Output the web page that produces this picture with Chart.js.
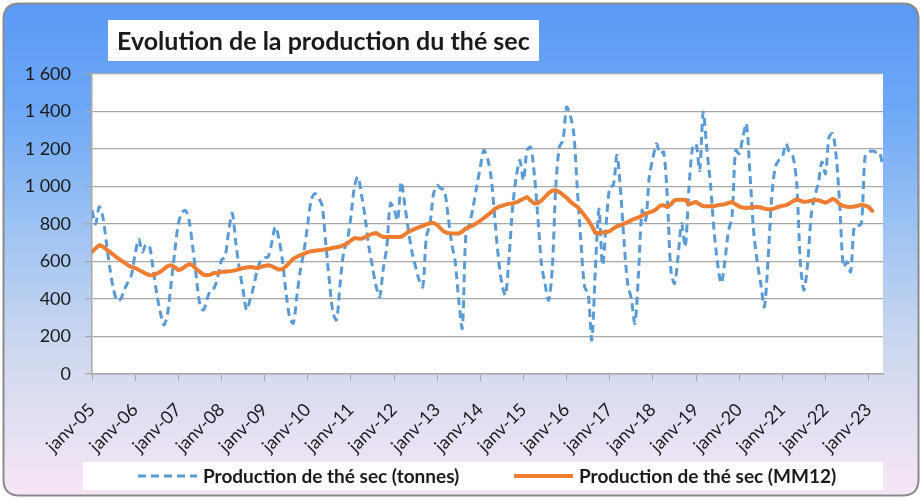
<!DOCTYPE html>
<html>
<head>
<meta charset="utf-8">
<script src="https://cdn.jsdelivr.net/npm/chart.js@4.4.1/dist/chart.umd.min.js"></script>
<style>
  html, body { margin: 0; padding: 0; background: #ffffff; }
  #wrap { width: 922px; height: 499px; position: relative; }
  canvas { display: block; }
</style>
</head>
<body>
<div id="wrap"><canvas id="c" width="922" height="499"></canvas></div>
<script>
// ---- Data (monthly, janv-05 onwards) ----
const chartTitle = "Evolution de la production du thé sec";
const seriesNames = ["Production de thé sec (tonnes)", "Production de thé sec (MM12)"];
const yearTickLabels = ["janv-05","janv-06","janv-07","janv-08","janv-09","janv-10","janv-11","janv-12","janv-13","janv-14","janv-15","janv-16","janv-17","janv-18","janv-19","janv-20","janv-21","janv-22","janv-23"];

const productionTonnes = [
  873, 800, 891, 840, 700, 560, 450, 390, 400, 450, 490, 530,
  640, 719, 651, 690, 680, 560, 430, 330, 261, 320, 480, 650,
  800, 860, 873, 820, 680, 520, 370, 341, 400, 447, 460, 520,
  607, 625, 760, 857, 700, 560, 450, 341, 400, 470, 560, 607,
  620, 625, 700, 785, 720, 600, 430, 300, 271, 420, 560, 660,
  800, 930, 962, 940, 900, 700, 500, 330, 288, 480, 650, 713,
  838, 1000, 1051, 950, 830, 680, 571, 470, 412, 560, 680, 910,
  880, 820, 1025, 900, 767, 650, 571, 500, 465, 731, 800, 962,
  1006, 990, 980, 850, 700, 600, 394, 245, 751, 800, 891, 1000,
  1104, 1193, 1150, 1051, 838, 625, 483, 421, 625, 891, 1051, 1140,
  1033, 1193, 1210, 1069, 838, 589, 480, 394, 560, 1000, 1210, 1246,
  1423, 1380, 1282, 980, 700, 465, 428, 181, 560, 880, 580, 800,
  997, 1006, 1166, 980, 700, 480, 400, 271, 536, 873, 820, 1051,
  1150, 1228, 1175, 1184, 944, 554, 483, 625, 802, 678, 980, 1202,
  1228, 1086, 1397, 1200, 1015, 767, 589, 483, 600, 760, 838, 1193,
  1175, 1260, 1335, 1069, 767, 600, 483, 358, 600, 930, 1100, 1140,
  1157, 1228, 1180, 1157, 1015, 600, 447, 580, 838, 950, 1015, 1131,
  1069, 1264, 1282, 1157, 891, 571, 598, 545, 785, 790, 802, 1157,
  1184, 1190, 1184, 1184, 1104
];

const movingAverage12 = [
  651, 670, 687, 680, 665, 650, 635, 620, 607, 595, 580, 571,
  565, 555, 545, 535, 527, 527, 535, 545, 560, 575, 580, 570,
  554, 560, 575, 586, 580, 560, 545, 530, 527, 530, 540, 536,
  545, 545, 548, 550, 554, 560, 565, 568, 571, 568, 565, 572,
  576, 580, 575, 565, 557, 560, 575, 595, 615, 625, 634, 642,
  650, 655, 657, 660, 662, 665, 668, 673, 676, 680, 688, 696,
  712, 725, 722, 722, 730, 740, 748, 752, 740, 731, 731, 731,
  731, 731, 731, 745, 758, 767, 775, 783, 790, 798, 804, 806,
  795, 775, 758, 752, 750, 749, 749, 760, 777, 785, 793, 805,
  818, 832, 847, 862, 880, 891, 897, 903, 908, 910, 915, 925,
  935, 944, 925, 909, 912, 925, 945, 965, 978, 980, 970, 955,
  940, 920, 905, 891, 870, 845, 820, 790, 752, 752, 755, 757,
  762, 775, 788, 793, 802, 810, 820, 829, 835, 845, 855, 862,
  868, 880, 898, 900, 891, 905, 927, 930, 930, 930, 905, 912,
  918, 905, 895, 895, 895, 895, 900, 903, 905, 912, 918, 905,
  893, 888, 885, 888, 890, 891, 888, 882, 879, 879, 885, 892,
  897, 900, 910, 922, 932, 925, 918, 920, 924, 927, 927, 920,
  914, 922, 935, 925, 905, 896, 892, 891, 893, 897, 903, 898,
  891, 870
];

const yMin = 0, yMax = 1600, yStep = 200;

// ---- Colours ----
const BLUE = '#5B9BD5';
const ORANGE = '#ED7D31';
const GRID = '#a8a8a8';
const FONT = 'Lato, "Open Sans", "DejaVu Sans", sans-serif';

function toPoints(arr) { return arr.map((v, i) => ({ x: i, y: v })); }
function fmtThousands(v) { return String(v).replace(/\B(?=(\d{3})+(?!\d))/g, ' '); }

const decorPlugin = {
  id: 'decor',
  beforeDraw(chart) {
    const ctx = chart.ctx;
    const W = chart.width, H = chart.height;
    ctx.save();
    ctx.fillStyle = '#ffffff';
    ctx.fillRect(0, 0, W, H);
    // rounded background panel
    const x = 3.5, y = 3.5, w = W - 7, h = H - 7, r = 16;
    ctx.beginPath();
    ctx.moveTo(x + r, y);
    ctx.lineTo(x + w - r, y);
    ctx.quadraticCurveTo(x + w, y, x + w, y + r);
    ctx.lineTo(x + w, y + h - r);
    ctx.quadraticCurveTo(x + w, y + h, x + w - r, y + h);
    ctx.lineTo(x + r, y + h);
    ctx.quadraticCurveTo(x, y + h, x, y + h - r);
    ctx.lineTo(x, y + r);
    ctx.quadraticCurveTo(x, y, x + r, y);
    ctx.closePath();
    const g = ctx.createLinearGradient(0, y, 0, y + h);
    g.addColorStop(0, '#5a99f6');
    g.addColorStop(0.22, '#6ea8f6');
    g.addColorStop(0.45, '#9cc2f2');
    g.addColorStop(0.7, '#cdd8ef');
    g.addColorStop(1, '#f7e6f5');
    ctx.fillStyle = g;
    ctx.fill();
    ctx.lineWidth = 2;
    ctx.strokeStyle = '#8a8a8a';
    ctx.stroke();
    // plot area
    const a = chart.chartArea;
    ctx.fillStyle = '#ffffff';
    ctx.fillRect(a.left, a.top, a.right - a.left, a.bottom - a.top);
    // title box
    ctx.fillStyle = '#ffffff';
    ctx.fillRect(108, 20, 431, 41);
    ctx.fillStyle = '#1a1a1a';
    ctx.font = 'bold 25px ' + FONT;
    ctx.textBaseline = 'alphabetic';
    ctx.textAlign = 'left';
    ctx.fillText(chartTitle, 117, 50);
    // legend box
    ctx.fillStyle = '#ffffff';
    ctx.fillRect(83, 462, 800, 28);
    ctx.restore();
  },
  afterDraw(chart) {
    const ctx = chart.ctx;
    ctx.save();
    const items = [
      { ds: chart.data.datasets[1], x0: 138, x1: 197, tx: 203 },
      { ds: chart.data.datasets[0], x0: 514, x1: 573, tx: 579 }
    ];
    const ly = 476;
    items.forEach(it => {
      ctx.beginPath();
      ctx.strokeStyle = it.ds.borderColor;
      ctx.lineWidth = it.ds.borderWidth;
      ctx.setLineDash(it.ds.borderDash || []);
      ctx.moveTo(it.x0, ly);
      ctx.lineTo(it.x1, ly);
      ctx.stroke();
      ctx.setLineDash([]);
      ctx.fillStyle = '#1a1a1a';
      ctx.font = 'bold 19px ' + FONT;
      ctx.textBaseline = 'middle';
      ctx.textAlign = 'left';
      ctx.fillText(it.ds.label, it.tx, ly + 1);
    });
    ctx.restore();
  }
};

new Chart(document.getElementById('c'), {
  type: 'line',
  data: {
    datasets: [
      {
        label: seriesNames[1],
        data: toPoints(movingAverage12),
        borderColor: ORANGE,
        backgroundColor: ORANGE,
        borderWidth: 4,
        pointRadius: 0,
        tension: 0,
        borderCapStyle: 'round',
        borderJoinStyle: 'round',
        order: 0
      },
      {
        label: seriesNames[0],
        data: toPoints(productionTonnes),
        borderColor: BLUE,
        backgroundColor: BLUE,
        borderWidth: 3,
        borderDash: [8, 5],
        pointRadius: 0,
        tension: 0.3,
        order: 1
      }
    ]
  },
  options: {
    responsive: false,
    animation: false,
    devicePixelRatio: 1,
    layout: { padding: { top: 74, left: 0, right: 39, bottom: 0 } },
    plugins: {
      legend: { display: false },
      title: { display: false },
      tooltip: { enabled: false }
    },
    scales: {
      x: {
        type: 'linear',
        min: 0,
        max: productionTonnes.length - 1,
        afterBuildTicks(scale) {
          scale.ticks = yearTickLabels.map((_, i) => ({ value: i * 12 }));
        },
        afterFit(scale) { scale.height = 125; },
        ticks: {
          autoSkip: false,
          maxRotation: 45,
          minRotation: 45,
          padding: 18,
          color: '#1a1a1a',
          font: { family: FONT, size: 18 },
          callback(v) { return yearTickLabels[Math.round(v / 12)]; }
        },
        grid: {
          drawOnChartArea: false,
          drawTicks: true,
          tickLength: 7,
          color: GRID,
          lineWidth: 1
        },
        border: { display: true, color: GRID, width: 1.5 }
      },
      y: {
        min: yMin,
        max: yMax,
        afterFit(scale) { scale.width = 92; },
        ticks: {
          stepSize: yStep,
          padding: 14,
          color: '#1a1a1a',
          font: { family: FONT, size: 18 },
          callback(v) { return fmtThousands(v); }
        },
        grid: {
          color: GRID,
          lineWidth: 1.3,
          tickLength: 7,
          drawTicks: true
        },
        border: { display: true, color: GRID, width: 1.5 }
      }
    }
  },
  plugins: [decorPlugin]
});
</script>
</body>
</html>
